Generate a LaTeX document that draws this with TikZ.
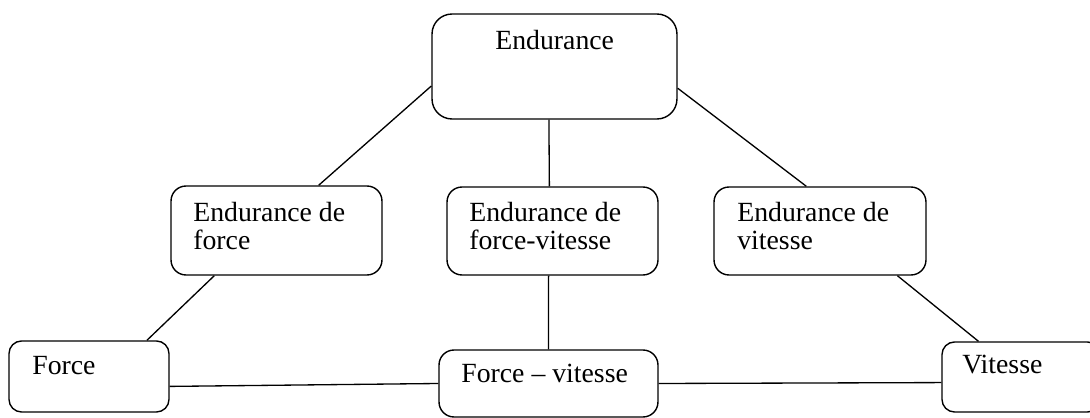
\documentclass[tikz,border=0pt]{standalone}
\usepackage{fontspec}
\setmainfont{Liberation Serif}
\usepackage{tikz}
\tikzset{
  baseline = (current bounding box.center),
}

\begin{document}
\begin{tikzpicture}[
    x=0.02cm, y=-0.02cm,
    box/.style={draw, rounded corners=0.3cm, line width=0.8pt, inner sep=0pt},
    txt/.style={anchor=base west, align=left, inner sep=0pt, font=\fontsize{15.8}{16.2}\selectfont},
    link/.style={line width=0.75pt},
    ]
    \useasboundingbox (0,0) rectangle (1090,418);
    \clip (0,0) rectangle (1090,418);
    \node[box, rounded corners=0.4cm, minimum width=4.9cm, minimum height=2.1cm] (endu) at (554.5,66.5) {};
    \node[box, minimum width=4.22cm, minimum height=1.78cm] (ef) at (276.5,230.5) {};
    \node[box, minimum width=4.22cm, minimum height=1.76cm] (efv) at (552.5,231) {};
    \node[box, minimum width=4.24cm, minimum height=1.76cm] (ev) at (820,231) {};
    \node[box, rounded corners=0.25cm, minimum width=3.2cm, minimum height=1.42cm] (fo) at (89,376.5) {};
    \node[box, minimum width=4.38cm, minimum height=1.34cm] (fv) at (548.5,383.5) {};
    \node[box, rounded corners=0.25cm, minimum width=3.16cm, minimum height=1.4cm] (vi) at (1021,377) {};
    \node[txt] (endut) at (495,50) {Endurance};
    \node[txt] (eft) at (193,250) {Endurance de\\force};
    \node[txt] (efvt) at (469,250) {Endurance de\\force-vitesse};
    \node[txt] (evt) at (737,250) {Endurance de\\vitesse};
    \node[txt] (fot) at (32,375) {Force};
    \node[txt] (fvt) at (461,383) {Force – vitesse};
    \node[txt] (vit) at (962,374) {Vitesse};
    \draw[link] (endu.189.5) -- (ef.47);
    \draw[link] (endu.264) -- (efv.94.5);
    \draw[link] (endu.350) -- (ev.107.6);
    \draw[link] (ef.216.8) -- (fo.32.4);
    \draw[link] (efv.265.5) -- (fv.north);
    \draw[link] (ev.330.6) -- (vi.140.2);
    \draw[link] (fo.353.2) -- (fv.west);
    \draw[link] (fv.east) -- (vi.184.3);
\end{tikzpicture}
\end{document}
